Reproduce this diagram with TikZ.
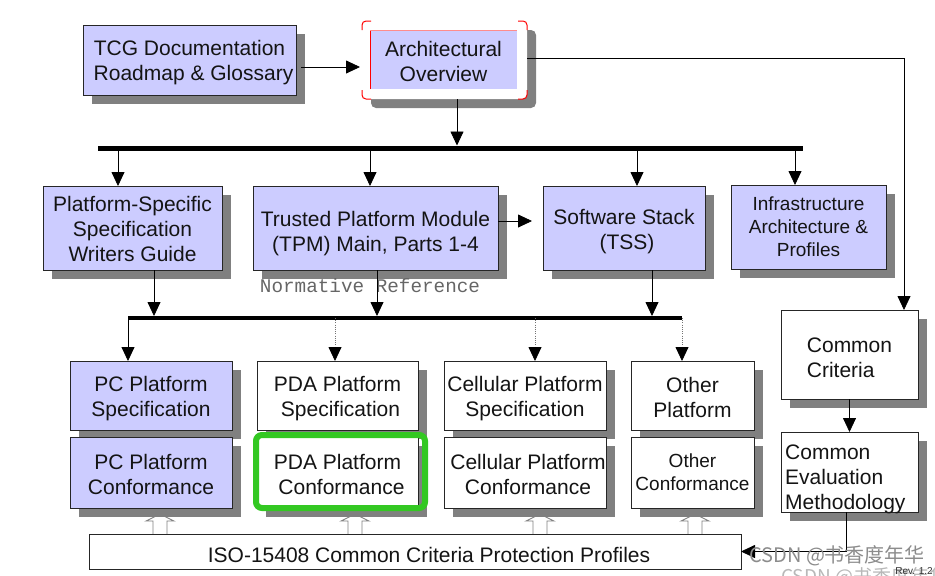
\documentclass[tikz,border=0pt]{standalone}
\usepackage{fontspec}
\setmainfont{Liberation Sans}
\newfontfamily\monof{Liberation Mono}
\newfontfamily\cjkf{Noto Sans CJK SC}
\usetikzlibrary{arrows.meta,shadows}
\definecolor{lav}{RGB}{204,204,255}
\definecolor{shad}{RGB}{128,128,128}
\definecolor{grn}{RGB}{51,200,34}
\definecolor{txt}{RGB}{20,20,20}
\begin{document}
\begin{tikzpicture}[x=1pt,y=-1pt,
  base/.style={draw=black!85, line width=0.8pt, inner sep=0pt, outer sep=0pt},
  sh/.style={drop shadow={shadow xshift=9pt, shadow yshift=-9pt, fill=shad, opacity=1}},
  lbox/.style={base, sh, fill=lav},
  wbox/.style={base, sh, fill=white},
  tx/.style={inner sep=0pt, align=center, text=txt, font=\fontsize{21}{25}\selectfont},
  txs/.style={tx, font=\fontsize{19}{23}\selectfont},
  arr/.style={line width=0.8pt, -{Triangle[width=13pt,length=14pt]}},
  dotarr/.style={line width=0.8pt, black!55, dash pattern=on 1pt off 1.2pt, -{Triangle[width=13pt,length=14pt,color=black]}},
  bar/.style={line width=5pt},
  hol/.pic={\draw[fill=white, draw=black!50, line width=0.9pt] (-7,20) -- (-7,7) -- (-14,7) -- (0,0) -- (14,7) -- (7,7) -- (7,20);}
]
\useasboundingbox (0,0) rectangle (935,576);

% hollow arrows from ISO (behind the boxes and their shadows)
\pic at (160,514) {hol};
\pic at (355,514) {hol};
\pic at (540,514) {hol};
\pic at (695,514) {hol};

% top row
\node[lbox, minimum width=213, minimum height=70] (tcg) at (189.5,60) {};
\node[tx] (tcgT) at ([yshift=-3pt]tcg.center) {TCG Documentation\\ \hspace*{8pt}Roadmap \& Glossary};
\node[base, sh, draw=none, fill=white, rounded corners=5pt, minimum width=165, minimum height=78] (archf) at (444.5,60) {};
\node[base, draw=none, fill=lav, minimum width=147, minimum height=59] (archi) at (443.5,59.5) {};
\node[tx] (archT) at ([yshift=-2pt]archi.center) {Architectural\\ Overview};
\draw[red, line width=1pt] (archi.south west) -- (archi.north west);
\draw[red!45, line width=0.8pt] (archi.north west) -- (archi.north east);
\foreach \c/\a/\b in {north west/-9/9, north east/-9/-9, south west/9/9, south east/9/-9}{
  \draw[red, line width=1pt, rounded corners=4pt] ([yshift=\a pt]archf.\c) |- ([xshift=\b pt]archf.\c);
}

% row 2
\node[lbox, minimum width=179, minimum height=84] (pss) at (132.5,228) {};
\node[tx] (pssT) at ([yshift=-1pt]pss.center) {Platform-Specific\\ Specification\\ Writers Guide};
\node[lbox, minimum width=245, minimum height=84] (tpm) at (375.5,228) {};
\node[tx] (tpmT) at ([yshift=-6pt]tpm.center) {Trusted Platform Module\\ (TPM) Main, Parts 1-4};
\node[lbox, minimum width=162, minimum height=84] (tss) at (624,228) {};
\node[tx] (tssT) at ([yshift=-3.5pt]tss.center) {Software Stack\\ \hspace*{6pt}(TSS)};
\node[lbox, minimum width=155, minimum height=84] (infra) at (808.5,227) {};
\node[txs] (infraT) at (infra.center) {Infrastructure\\ Architecture \&\\ Profiles};
\node[text=black!60, font=\monof\fontsize{19.3}{22}\selectfont, inner sep=0pt] (norm) at (370,286) {Normative Reference};

% row 3
\node[lbox, minimum width=162, minimum height=69] (pcs) at (151,395.5) {};
\node[tx] (pcsT) at ([yshift=-3pt]pcs.center) {PC Platform\\ Specification};
\node[lbox, minimum width=162, minimum height=71] (pcc) at (151,472.5) {};
\node[tx] (pccT) at ([yshift=-1.5pt]pcc.center) {PC Platform\\ Conformance};
\node[wbox, minimum width=161, minimum height=69] (pdas) at (337.5,395.5) {};
\node[tx] (pdasT) at ([yshift=-3pt]pdas.center) {PDA Platform\\ \hspace*{6pt}Specification};
\node[wbox, minimum width=161, minimum height=71] (pdac) at (337.5,472.5) {};
\node[tx] (pdacT) at ([yshift=-1.5pt]pdac.center) {PDA Platform\\ \hspace*{8pt}Conformance};
\node[wbox, minimum width=162, minimum height=69] (cels) at (525,395.5) {};
\node[tx] (celsT) at ([yshift=-3pt]cels.center) {Cellular Platform\\ Specification};
\node[wbox, minimum width=162, minimum height=71] (celc) at (525,472.5) {};
\node[tx] (celcT) at ([xshift=3pt,yshift=-1.5pt]celc.center) {Cellular Platform\\ Conformance};
\node[wbox, minimum width=123, minimum height=69] (oths) at (692.5,395.5) {};
\node[tx] (othsT) at ([yshift=-2pt]oths.center) {Other\\ Platform};
\node[wbox, minimum width=123, minimum height=71] (othc) at (692.5,472.5) {};
\node[txs] (othcT) at (othc.center) {Other\\ Conformance};
\node[wbox, minimum width=137, minimum height=89] (cc) at (849.5,354.5) {};
\node[tx, align=left] (ccT) at ([yshift=-3pt]cc.center) {Common\\ Criteria};
\node[wbox, minimum width=137, minimum height=80] (cem) at (849.5,472) {};
\node[tx, align=left, anchor=north west] (cemT) at ([xshift=4pt,yshift=-13pt]cem.north west) {Common\\ Evaluation\\ Methodology};
\node[base, fill=white, minimum width=652, minimum height=35] (iso) at (415,551.5) {};
\node[tx] (isoT) at ([xshift=14pt,yshift=-3pt]iso.center) {ISO-15408 Common Criteria Protection Profiles};

% green highlight
\draw[grn, line width=6pt, rounded corners=6pt] (256,435) rectangle (425,508);

% bars
\coordinate (b1l) at (98,148);
\coordinate (b1r) at (803,148);
\coordinate (b2l) at (128,318);
\coordinate (b2r) at (682,318);
\draw[bar] (b1l) -- (b1r);
\draw[line width=4pt] (b2l) -- (b2r);

% connectors top
\draw[arr] ([xshift=5pt,yshift=-7pt]tcg.east) -- ([xshift=-2pt,yshift=-7pt]archf.west);
\draw[line width=0.8pt] ([yshift=2pt]archf.east) -| ([xshift=54.5pt,yshift=14pt]cc.north);
\draw[arr] ([xshift=54.5pt,yshift=14pt]cc.north) -- ([xshift=54.5pt]cc.north);
\draw[arr, shorten >=2.5pt] ([xshift=12.5pt]archf.south) -- ([xshift=12.5pt]archf.south |- b1l);

\coordinate (d1) at (118,148);
\coordinate (d2) at (370,148);
\coordinate (d3) at (637,148);
\coordinate (d4) at (795,148);
\draw[arr] (d1) -- (d1 |- pss.north);
\draw[arr] (d2) -- (d2 |- tpm.north);
\draw[arr] (d3) -- (d3 |- tss.north);
\draw[arr] (d4) -- (d4 |- infra.north);
\draw[arr] ([yshift=7pt]tpm.east) -- ([xshift=-11pt,yshift=7pt]tss.west);

% row 2 to bar 2
\draw[arr, shorten >=2pt] ([xshift=21.5pt]pss.south) -- ([xshift=21.5pt]pss.south |- b2l);
\draw[arr, shorten >=2pt] ([xshift=1.5pt]tpm.south) -- ([xshift=1.5pt]tpm.south |- b2l);
\draw[arr, shorten >=2pt] ([xshift=28pt]tss.south) -- ([xshift=28pt]tss.south |- b2l);

% bar 2 to row 3
\coordinate (e2) at (335,318);
\coordinate (e3) at (535,318);
\draw[arr] (b2l) -- (b2l |- pcs.north);
\draw[dotarr] (e2) -- (e2 |- pdas.north);
\draw[dotarr] (e3) -- (e3 |- cels.north);
\draw[dotarr] (b2r) -- (b2r |- oths.north);

% right column
\draw[arr] (cc.south) -- (cem.north);
\draw[arr] ([xshift=-3.5pt]cem.south) |- (iso.east);

% watermark
\node[anchor=west, inner sep=0pt, text=black!45, font=\cjkf\fontsize{20}{22}\selectfont] (wm1) at (749,556) {CSDN @书香度年华};
\node[anchor=west, inner sep=0pt, text=black!28, font=\cjkf\fontsize{19}{22}\selectfont] (wm2) at (781,577) {CSDN @书香度年华};
\node[inner sep=0pt, text=black!80, font=\fontsize{10}{12}\selectfont] (rev) at (914,571) {Rev. 1.2};
\end{tikzpicture}
\end{document}
